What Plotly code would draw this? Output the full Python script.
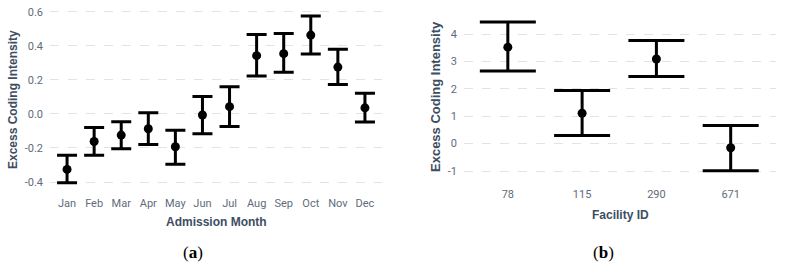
import plotly.graph_objects as go

# Panel (a): admission month
months = ["Jan", "Feb", "Mar", "Apr", "May", "Jun", "Jul", "Aug", "Sep", "Oct", "Nov", "Dec"]
month_est = [-0.326, -0.162, -0.124, -0.087, -0.193, -0.006, 0.043, 0.343, 0.355, 0.464, 0.276, 0.036]
month_lo = [-0.405, -0.243, -0.205, -0.180, -0.296, -0.116, -0.073, 0.223, 0.245, 0.353, 0.174, -0.047]
month_hi = [-0.243, -0.079, -0.045, 0.008, -0.095, 0.103, 0.160, 0.468, 0.474, 0.576, 0.381, 0.122]
month_ticks = [-0.4, -0.2, 0.0, 0.2, 0.4, 0.6]
month_ticktext = ["-0.4", "-0.2", "0.0", "0.2", "0.4", "0.6"]

# Panel (b): facility ID
facilities = ["78", "115", "290", "671"]
fac_est = [3.52, 1.11, 3.09, -0.15]
fac_lo = [2.65, 0.30, 2.45, -0.99]
fac_hi = [4.44, 1.94, 3.76, 0.66]
fac_ticks = [-1, 0, 1, 2, 3, 4]
fac_ticktext = ["-1", "0", "1", "2", "3", "4"]

W, H = 786, 271
tick_color = "#5f6b7c"
title_color = "#3d4d63"
grid_color = "#e3e3e3"
tick_font = dict(family="Liberation Sans Narrow, Roboto, Liberation Sans, Arial", size=11, color=tick_color)

def px_x(p):
    return p / W

def px_y(p):
    return 1 - p / H

fig = go.Figure()

fig.add_trace(go.Scatter(
    x=list(range(len(months))), y=month_est, mode="markers",
    marker=dict(color="black", size=9),
    error_y=dict(type="data", symmetric=False,
                 array=[h - e for h, e in zip(month_hi, month_est)],
                 arrayminus=[e - l for e, l in zip(month_est, month_lo)],
                 color="black", thickness=3, width=10),
    xaxis="x", yaxis="y", showlegend=False, hoverinfo="skip"))

fig.add_trace(go.Scatter(
    x=list(range(len(facilities))), y=fac_est, mode="markers",
    marker=dict(color="black", size=9),
    error_y=dict(type="data", symmetric=False,
                 array=[h - e for h, e in zip(fac_hi, fac_est)],
                 arrayminus=[e - l for e, l in zip(fac_est, fac_lo)],
                 color="black", thickness=3, width=28),
    xaxis="x2", yaxis="y2", showlegend=False, hoverinfo="skip"))

axis_common = dict(showline=False, zeroline=False, ticks="", tickfont=tick_font)

fig.update_layout(
    width=W, height=H,
    margin=dict(l=0, r=0, t=0, b=0),
    paper_bgcolor="white", plot_bgcolor="white",
    xaxis=dict(domain=[px_x(50), px_x(382)], range=[-0.63, 11.63],
               tickmode="array", tickvals=list(range(len(months))), ticktext=months,
               showgrid=False, anchor="y", ticklabelstandoff=1, **axis_common),
    yaxis=dict(domain=[px_y(194), px_y(5)], range=[-0.4706, 0.641],
               tickmode="array", tickvals=month_ticks, ticktext=month_ticktext,
               showgrid=True, gridcolor=grid_color, griddash="dash", gridwidth=1,
               anchor="x", ticklabelstandoff=6, **axis_common),
    xaxis2=dict(domain=[px_x(464), px_x(776)], range=[-0.59, 3.61],
                tickmode="array", tickvals=list(range(len(facilities))), ticktext=facilities,
                showgrid=False, anchor="y2", ticklabelstandoff=2, **axis_common),
    yaxis2=dict(domain=[px_y(184), px_y(5)], range=[-1.474, 5.06],
                tickmode="array", tickvals=fac_ticks, ticktext=fac_ticktext,
                showgrid=True, gridcolor=grid_color, griddash="dash", gridwidth=1,
                anchor="x2", ticklabelstandoff=6, **axis_common),
)

title_font = dict(family="Liberation Sans, Arial", size=12, color=title_color)
annos = [
    dict(text="<b>Admission Month</b>", x=px_x(216), y=px_y(222), textangle=0, size=12),
    dict(text="<b>Excess Coding Intensity</b>", x=px_x(13), y=px_y(100), textangle=-90, size=12),
    dict(text="<b>Facility ID</b>", x=px_x(620), y=px_y(215), textangle=0, size=12),
    dict(text="<b>Excess Coding Intensity</b>", x=px_x(435), y=px_y(97), textangle=-90, size=13),
]
for a in annos:
    size = a.pop("size")
    fig.add_annotation(xref="paper", yref="paper", xanchor="center", yanchor="middle",
                       showarrow=False, font=dict(title_font, size=size), **a)

cap_font = dict(family="Liberation Serif, DejaVu Serif, serif", size=17, color="black")
for txt, x in [("(<b>a</b>)", 193), ("(<b>b</b>)", 603)]:
    fig.add_annotation(xref="paper", yref="paper", x=px_x(x), y=px_y(252),
                       xanchor="center", yanchor="middle", showarrow=False,
                       text=txt, font=cap_font)

fig.write_html("out.html", config={"displayModeBar": False, "staticPlot": True},
               post_script="document.body.style.margin='0';document.body.style.overflow='hidden';")
